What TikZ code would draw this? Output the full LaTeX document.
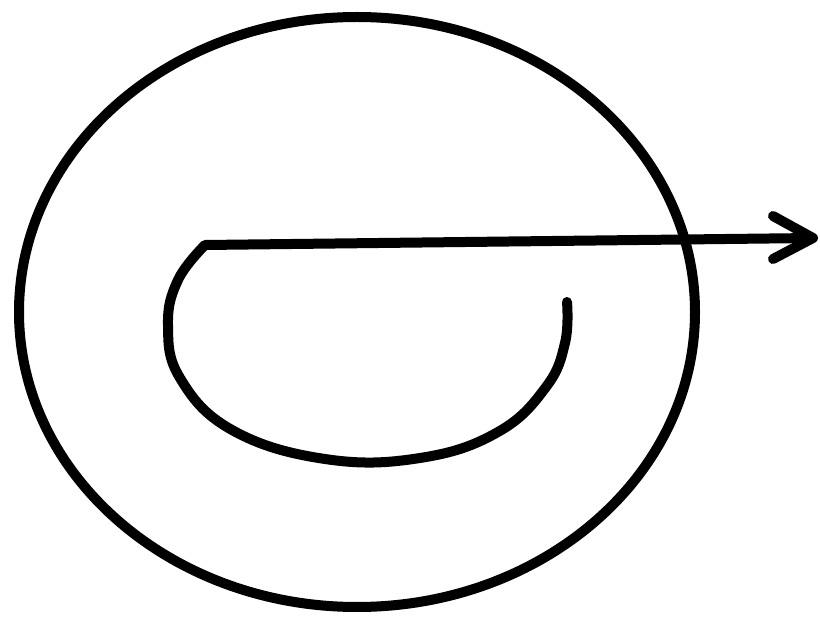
\documentclass[tikz,border=0pt]{standalone}
\begin{document}
\begin{tikzpicture}[x=1pt,y=-1pt,
  ink/.style={line width=10pt,draw=black,line cap=round,line join=round}]
\useasboundingbox[fill=white] (0,0) rectangle (820,620);
\coordinate (c) at (357,312);
\coordinate (s) at (205,245);
\coordinate (tip) at (813,238);
\coordinate (e) at (567,302);
% outer ellipse
\draw[ink] (c) ellipse [x radius=338, y radius=295];
% inner curve
\draw[ink] plot[smooth,tension=0.7] coordinates {(205,245) (178,280) (168,325) (180,378) (232,430) (325,459) (420,458) (498,432) (546,387) (565,343) (567,302)};
% arrow shaft and head
\draw[ink,line cap=butt] (s) -- (tip);
\draw[ink] (773,216) -- (tip) -- (773,259);
\end{tikzpicture}
\end{document}
